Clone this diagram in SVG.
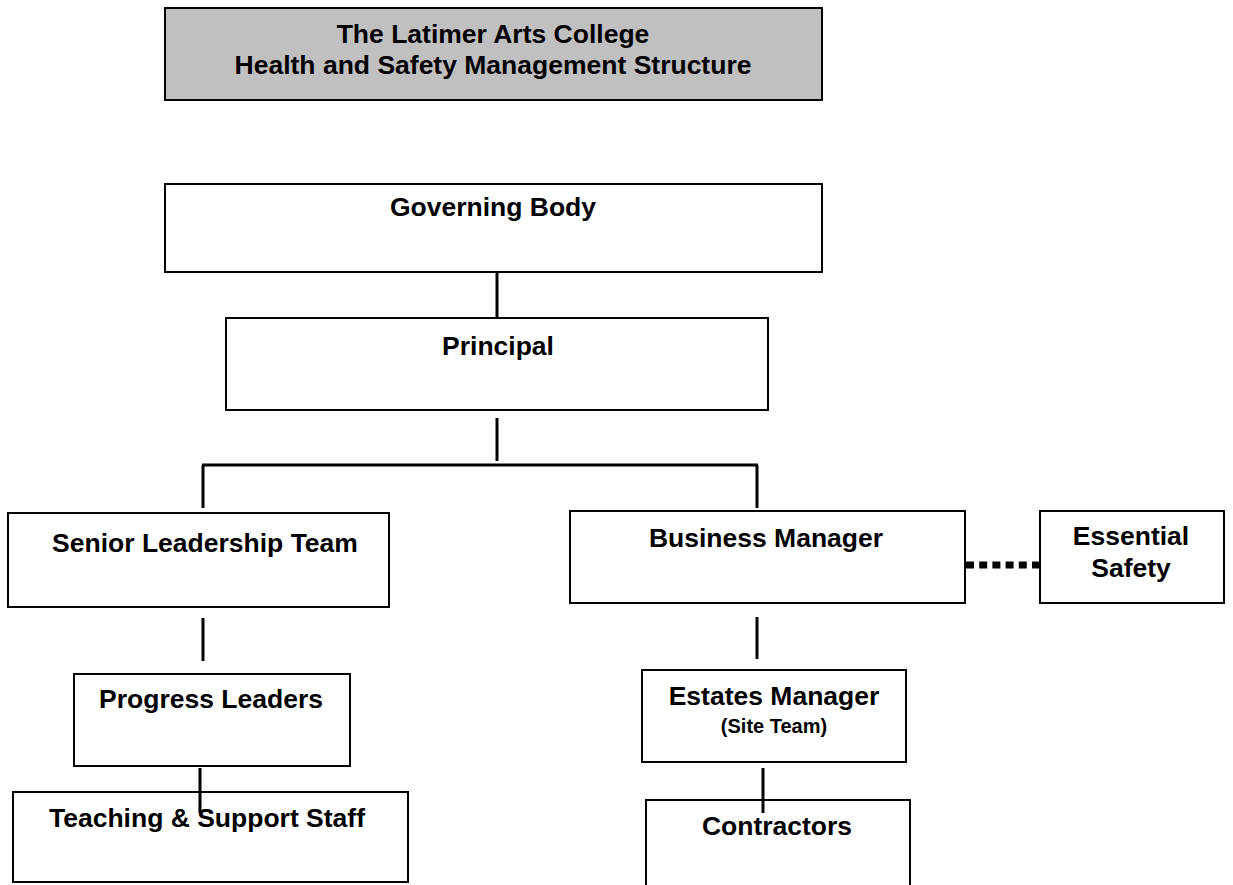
<svg xmlns="http://www.w3.org/2000/svg" width="1233" height="885" viewBox="0 0 1233 885">
<style>
.box{fill:#ffffff;stroke:#000;stroke-width:2}
.title{fill:#c0c0c0;stroke:#000;stroke-width:2}
.t{font-family:"Liberation Sans",Arial,sans-serif;font-weight:bold;font-size:26.5px;fill:#000;text-anchor:middle}
.s{font-size:20px}
.c{stroke:#000;stroke-width:3;fill:none}
.dot{stroke:#000;stroke-width:7;stroke-dasharray:8 5.2;fill:none}
</style>
<rect width="1233" height="885" fill="#ffffff"/>
<g id="title">
<rect class="title" x="165" y="8" width="657" height="92"/>
<text class="t" x="493" y="43">The Latimer Arts College</text>
<text class="t" x="493" y="74">Health and Safety Management Structure</text>
</g>
<g id="connectors">
<line class="c" x1="497" y1="272" x2="497" y2="318"/>
<line class="c" x1="497" y1="418" x2="497" y2="461"/>
<line class="c" x1="202" y1="465" x2="758" y2="465"/>
<line class="c" x1="203" y1="465" x2="203" y2="508"/>
<line class="c" x1="757" y1="465" x2="757" y2="508"/>
<line class="dot" x1="966" y1="565" x2="1040" y2="565"/>
<line class="c" x1="203" y1="618" x2="203" y2="661"/>
<line class="c" x1="757" y1="617" x2="757" y2="659"/>
<line class="c" x1="200" y1="768" x2="200" y2="813"/>
<line class="c" x1="763" y1="768" x2="763" y2="813"/>
</g>
<g id="governing">
<rect class="box" x="165" y="184" width="657" height="88"/>
<text class="t" x="493" y="216">Governing Body</text>
</g>
<g id="principal">
<rect class="box" x="226" y="318" width="542" height="92"/>
<text class="t" x="498" y="355">Principal</text>
</g>
<g id="slt">
<rect class="box" x="8" y="513" width="381" height="94"/>
<text class="t" x="205" y="552">Senior Leadership Team</text>
</g>
<g id="business">
<rect class="box" x="570" y="511" width="395" height="92"/>
<text class="t" x="766" y="547">Business Manager</text>
</g>
<g id="essential">
<rect class="box" x="1040" y="511" width="184" height="92"/>
<text class="t" x="1131" y="545">Essential</text>
<text class="t" x="1131" y="577">Safety</text>
</g>
<g id="progress">
<rect class="box" x="74" y="674" width="276" height="92"/>
<text class="t" x="211" y="708">Progress Leaders</text>
</g>
<g id="teaching">
<rect class="box" x="13" y="792" width="395" height="90"/>
<text class="t" x="207" y="827">Teaching &amp; Support Staff</text>
</g>
<g id="estates">
<rect class="box" x="642" y="670" width="264" height="92"/>
<text class="t" x="774" y="705">Estates Manager</text>
<text class="t s" x="774" y="733">(Site Team)</text>
</g>
<g id="contractors">
<path class="box" d="M646,886 V800 H910 V886"/>
<text class="t" x="777" y="835">Contractors</text>
</g>
<line class="c" x1="200" y1="792" x2="200" y2="813"/>
<line class="c" x1="763" y1="800" x2="763" y2="813"/>
</svg>
